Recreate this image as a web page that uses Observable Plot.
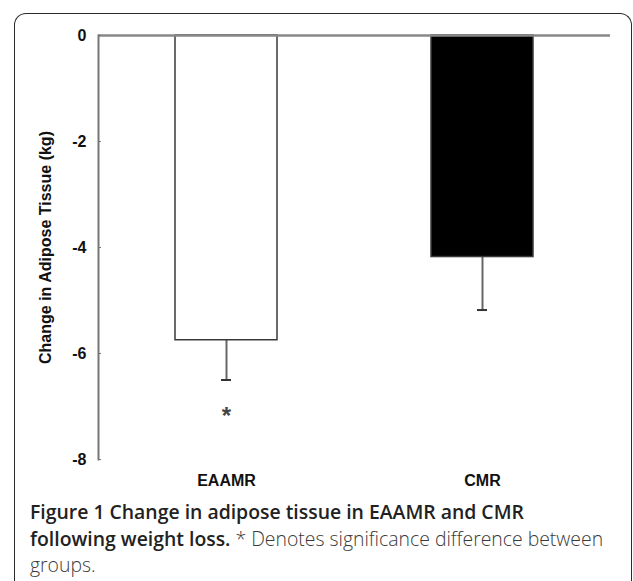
<!DOCTYPE html>
<html>
<head>
<meta charset="utf-8">
<script src="https://cdn.jsdelivr.net/npm/d3@7"></script>
<script src="https://cdn.jsdelivr.net/npm/@observablehq/plot@0.6"></script>
<style>
  html, body { margin: 0; padding: 0; background: #fff; overflow: hidden; }
  body { width: 633px; height: 581px; position: relative; }
  #frame {
    position: absolute; left: 14px; top: 13px; width: 616px; height: 600px;
    border: 1.5px solid #2a2a2a; border-bottom: none;
    border-radius: 12px 12px 0 0;
  }
  #chart { position: absolute; left: 0; top: 0; }
  #caption {
    position: absolute; left: 30px; top: 499px; width: 600px; white-space: nowrap;
    font-family: "Open Sans", sans-serif; font-size: 19.4px; line-height: 26.5px;
    color: #3a3a3a; font-weight: 300;
  }
  #caption b { font-weight: 600; color: #222; }
</style>
</head>
<body>
<div id="frame"></div>
<div id="chart"></div>
<div id="caption"><b>Figure 1 Change in adipose tissue in EAAMR and CMR<br>following weight loss.</b> * Denotes significance difference between<br>groups.</div>
<script>
const groups = ["EAAMR", "CMR"];
const means = [-5.75, -4.18];
const errors = [0.75, 1.0];
const fills = ["#ffffff", "#000000"];
const yTicks = [0, -2, -4, -6, -8];
const sigGroup = ["EAAMR"];
const sigY = [-7.07];

const data = groups.map((g, i) => ({group: g, mean: means[i], err: errors[i], low: means[i] - errors[i], fill: fills[i]}));
const sig = sigGroup.map((g, i) => ({group: g, y: sigY[i]}));

const font = "'Liberation Sans', Arial, sans-serif";
const chart = Plot.plot({
  width: 633,
  height: 500,
  marginLeft: 98,
  marginRight: 23,
  marginTop: 35,
  marginBottom: 41,
  style: {fontFamily: font, background: "transparent"},
  x: {domain: groups, paddingInner: 0.6, paddingOuter: 0.3, label: null},
  y: {domain: [-8, 0], label: null},
  marks: [
    Plot.ruleX(data, {x: "group", y1: "mean", y2: "low", stroke: "#666", strokeWidth: 2}),
    Plot.tickY(data, {x: "group", y: "low", stroke: "#333", strokeWidth: 2, insetLeft: 46, insetRight: 46}),
    Plot.barY(data, {x: "group", y1: 0, y2: "mean", fill: "fill", stroke: "#3a3a3a", strokeWidth: 1.5}),
    Plot.ruleY([0], {stroke: "#888", strokeWidth: 2.5}),
    Plot.frame({anchor: "left", stroke: "#777", strokeWidth: 2}),
    Plot.axisY({ticks: yTicks, text: null, tickSize: 3, dx: 3, stroke: "#777"}),
    Plot.axisY({ticks: yTicks, tickSize: 0, tickPadding: 12, fontSize: 16, fontWeight: "bold", fill: "#111", tickFormat: d => d === 0 ? "0" : String(d)}),
    Plot.axisX({tickSize: 0, tickPadding: 15, fontSize: 16, fontWeight: "bold", fill: "#111"}),
    Plot.text(["Change in Adipose Tissue (kg)"], {frameAnchor: "left", textAnchor: "middle", rotate: -90, dx: -53, fontSize: 16, fontWeight: "bold", fill: "#111"}),
    Plot.text(sig, {x: "group", y: "y", text: () => "*", fontSize: 24, fontWeight: "bold", fill: "#444", dy: 6})
  ]
});
document.getElementById("chart").appendChild(chart);
</script>
</body>
</html>
